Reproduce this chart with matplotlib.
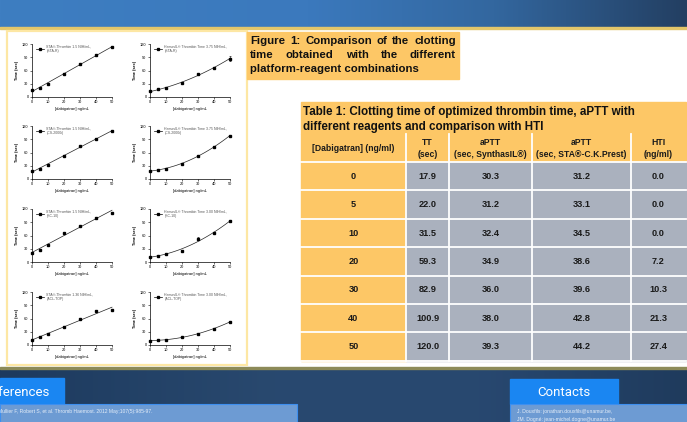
import numpy as np
import matplotlib
matplotlib.use('Agg')
import matplotlib.pyplot as plt
from matplotlib.patches import Rectangle
from matplotlib.lines import Line2D
from matplotlib.colors import LinearSegmentedColormap

plt.rcParams['font.family'] = ['Liberation Sans', 'DejaVu Sans']

# ---------------- data ----------------
conc = [0, 5, 10, 20, 30, 40, 50]
sta_star = [15, 20.5, 30.5, 53, 74, 95, 113]
sta_cs = [19, 23, 32, 52, 74, 91, 109]
sta_kc = [20.5, 28, 39, 66, 82, 100, 112]
sta_acl = [12, 18, 24, 40, 60, 76, 80]
hem_star = [13, 17, 20, 32, 52, 66, 87]
hem_cs = [19, 20, 23, 35, 53, 73, 98]
hem_kc = [12, 14, 17, 26, 53, 65, 93]
hem_acl = [10, 11, 11.5, 18, 26, 36, 53]
hem_star_err = [0, 0, 0, 0, 0, 0, 6]
hem_kc_err = [0, 0, 0, 0, 3, 0, 2]

left_labels = ["STA\u00ae-Thrombin 1.5 NIH/mL,\n(STA-R)",
               "STA\u00ae-Thrombin 1.5 NIH/mL,\n(CS-2000i)",
               "STA\u00ae-Thrombin 1.5 NIH/mL,\n(KC-10)",
               "STA\u00ae-Thrombin 1.36 NIH/mL,\n(ACL-TOP)"]
right_labels = ["HemosIL\u00ae Thrombin Time 3.75 NIH/mL,\n(STA-R)",
                "HemosIL\u00ae Thrombin Time 3.75 NIH/mL,\n(CS-2000i)",
                "HemosIL\u00ae Thrombin Time 3.00 NIH/mL,\n(KC-10)",
                "HemosIL\u00ae Thrombin Time 3.00 NIH/mL,\n(ACL-TOP)"]
left_series = [sta_star, sta_cs, sta_kc, sta_acl]
right_series = [hem_star, hem_cs, hem_kc, hem_acl]
right_errs = [hem_star_err, None, hem_kc_err, None]
x_ticks = [0, 10, 20, 30, 40, 50]
y_ticks = [0, 30, 60, 90, 120]

tbl_conc = ["0", "5", "10", "20", "30", "40", "50"]
tt = [17.9, 22.0, 31.5, 59.3, 82.9, 100.9, 120.0]
aptt_synth = [30.3, 31.2, 32.4, 34.9, 36.0, 38.0, 39.3]
aptt_sta = [31.2, 33.1, 34.5, 38.6, 39.6, 42.8, 44.2]
hti = [0.0, 0.0, 0.0, 7.2, 10.3, 21.3, 27.4]
tbl_headers = ["[Dabigatran] (ng/ml)", "TT\n(sec)", "aPTT\n(sec, SynthasIL\u00ae)",
               "aPTT\n(sec, STA\u00ae-C.K.Prest)", "HTI\n(ng/ml)"]
tbl_title = ["Table 1: Clotting time of optimized thrombin time, aPTT with",
             "different reagents and comparison with HTI"]
fig_caption = ["Figure 1: Comparison of the clotting",
               "time obtained with the different",
               "platform-reagent combinations"]

# ---------------- figure ----------------
W, H = 687, 422
fig = plt.figure(figsize=(W / 100, H / 100), dpi=100)
bg = fig.add_axes([0, 0, 1, 1])
bg.axis('off')


def lims():
    bg.set_xlim(0, W)
    bg.set_ylim(H, 0)


lims()


def px_axes(x0, y0, w, h):
    return fig.add_axes([x0 / W, 1 - (y0 + h) / H, w / W, h / H])


# top banner
grad = np.linspace(0, 1, 256).reshape(1, -1)
cm_top = LinearSegmentedColormap.from_list(
    'top', [(0, '#3e7ec1'), (0.45, '#3b79bd'), (0.72, '#33679f'), (1, '#233f62')])
bg.imshow(grad, extent=(0, W, 27, 0), aspect='auto', cmap=cm_top, zorder=0)
bg.add_patch(Rectangle((0, 27), W, 1.8, color='#e3c66a', zorder=1))

# bottom dark band
cm_bot = LinearSegmentedColormap.from_list(
    'bot', [(0, '#1d3a5e'), (0.4, '#29496f'), (0.7, '#284870'), (1, '#1f3b5d')])
bg.imshow(grad, extent=(0, W, H, 368), aspect='auto', cmap=cm_bot, zorder=0)
bg.add_patch(Rectangle((0, 366.5), W, 2, color='#8c8a58', zorder=1))
lims()

# left figure panel
bg.add_patch(Rectangle((7, 31), 240, 334, facecolor='white', edgecolor='#fde7a4',
                       lw=1.6, zorder=1))

# caption box
bg.add_patch(Rectangle((247, 32), 212, 47, color='#fdc766', zorder=2))

fig.canvas.draw()
renderer = fig.canvas.get_renderer()


def justified(lines, x0, x1, ys, size):
    for i, (line, y) in enumerate(zip(lines, ys)):
        if i == len(lines) - 1:
            bg.text(x0, y, line, fontsize=size, fontweight='bold', va='center',
                    ha='left', color='#111111', zorder=3)
            continue
        words = line.split()
        widths = []
        for wd in words:
            t = bg.text(0, 0, wd, fontsize=size, fontweight='bold')
            widths.append(t.get_window_extent(renderer).width)
            t.remove()
        gap = (x1 - x0 - sum(widths)) / (len(words) - 1)
        x = x0
        for wd, wdt in zip(words, widths):
            bg.text(x, y, wd, fontsize=size, fontweight='bold', va='center',
                    ha='left', color='#111111', zorder=3)
            x += wdt + gap


justified(fig_caption, 250, 456, [41, 55, 69], 8.2)

# ---------------- small plots ----------------
tops = [44, 126, 209, 292]
lefts = [32, 150]
xfit = np.linspace(0, 50, 100)
for c in range(2):
    for r in range(4):
        ax = px_axes(lefts[c], tops[r], 80, 53)
        if c == 0:
            y = left_series[r]
            coef = np.polyfit(conc, y, 1)
            label = left_labels[r]
            err = None
        else:
            y = right_series[r]
            coef = np.polyfit(conc, y, 2)
            label = right_labels[r]
            err = right_errs[r]
        ax.plot(xfit, np.polyval(coef, xfit), color='#222222', lw=0.5, clip_on=False)
        if err is not None:
            ax.errorbar(conc, y, yerr=err, fmt='s', color='black', ms=1.6,
                        elinewidth=0.4, capsize=0.8, capthick=0.4, clip_on=False)
        else:
            ax.plot(conc, y, 's', color='black', ms=1.6, clip_on=False)
        ax.set_xlim(0, 50)
        ax.set_ylim(0, 120)
        ax.set_xticks(x_ticks)
        ax.set_yticks(y_ticks)
        for s in ['top', 'right']:
            ax.spines[s].set_visible(False)
        for s in ['left', 'bottom']:
            ax.spines[s].set_linewidth(0.5)
        ax.tick_params(labelsize=2.8, length=1.5, width=0.4, pad=1)
        ax.set_xlabel('[dabigatran] ng/mL', fontsize=3.0, labelpad=1.5)
        ax.set_ylabel('Time (sec)', fontsize=2.8, fontweight='bold', labelpad=2)
        h = Line2D([], [], color='black', lw=0.5, marker='s', ms=1.4)
        leg = ax.legend([h], [label], loc='upper left', bbox_to_anchor=(0.02, 1.04),
                        frameon=False, fontsize=2.5, handlelength=2.2,
                        handletextpad=0.8, borderpad=0.2)
        for t in leg.get_texts():
            t.set_color('#555555')

# ---------------- table ----------------
col_edges = [301, 406, 449, 532, 631, 686]
title_top, head_top, rows_top, row_h = 102, 134, 162, 28.4
orange = '#fdc766'
gray = '#aab1be'
bg.add_patch(Rectangle((301, title_top), 385, head_top - title_top, color=orange, zorder=1))
for i, ln in enumerate(tbl_title):
    bg.text(303, 112 + 15 * i, ln, fontsize=8.4, fontweight='bold', va='center',
            ha='left', color='#111111', zorder=3)
# header row
for j in range(5):
    x0, x1 = col_edges[j], col_edges[j + 1]
    bg.add_patch(Rectangle((x0, head_top), x1 - x0, rows_top - head_top, color=orange, zorder=1))
    bg.text((x0 + x1) / 2, (head_top + rows_top) / 2 + 0.5, tbl_headers[j], fontsize=6.2,
            fontweight='bold', ha='center', va='center', linespacing=1.3,
            color='#1a1a1a', zorder=3)
cols = [tbl_conc, tt, aptt_synth, aptt_sta, hti]
for i in range(len(tbl_conc)):
    y0 = rows_top + i * row_h
    for j in range(5):
        x0, x1 = col_edges[j], col_edges[j + 1]
        bg.add_patch(Rectangle((x0, y0), x1 - x0, row_h,
                               color=orange if j == 0 else gray, zorder=1))
        v = cols[j][i]
        s = v if isinstance(v, str) else f"{v:.1f}"
        bg.text((x0 + x1) / 2, y0 + row_h / 2, s, fontsize=6.6, fontweight='bold',
                ha='center', va='center', color='#1a1a1a', zorder=3)
# white separators
tbl_bottom = rows_top + len(tbl_conc) * row_h
for x in col_edges[1:-1]:
    bg.plot([x, x], [head_top, tbl_bottom], color='white', lw=1.3, zorder=2)
for i in range(len(tbl_conc) + 1):
    yy = rows_top + i * row_h
    bg.plot([301, 686], [yy, yy], color='white', lw=1.3, zorder=2)

# ---------------- bottom tabs ----------------
bg.add_patch(Rectangle((0, 378), 64, 26, color='#1a86f2', zorder=2))
bg.add_patch(Rectangle((0, 404), 297, 20, facecolor='#6d9bd3', edgecolor='#3d8ff0',
                       lw=0.8, zorder=2))
bg.text(50, 392, 'References', fontsize=9.5, color='white', ha='right', va='center',
        family=['Roboto', 'DejaVu Sans'], zorder=3)
bg.text(-2, 411.5, 'Mullier F, Robert S, et al. Thromb Haemost. 2012 May;107(5):985-97.',
        fontsize=3.6, color='#e6eef8', ha='left', va='center', zorder=3)

bg.add_patch(Rectangle((510, 379), 108, 25, color='#1a86f2', zorder=2))
bg.add_patch(Rectangle((510, 404), 180, 20, facecolor='#6d9bd3', edgecolor='#3d8ff0',
                       lw=0.8, zorder=2))
bg.text(564, 392.5, 'Contacts', fontsize=9.5, color='white', ha='center', va='center',
        family=['Roboto', 'DejaVu Sans'], zorder=3)
bg.text(517, 411, 'J. Douxfils: jonathan.douxfils@unamur.be,', fontsize=3.6,
        color='#e6eef8', ha='left', va='center', zorder=3)
bg.text(517, 419, 'JM. Dogn\u00e9: jean-michel.dogne@unamur.be', fontsize=3.6,
        color='#e6eef8', ha='left', va='center', zorder=3)
lims()

fig.savefig('out.png', dpi=100)
